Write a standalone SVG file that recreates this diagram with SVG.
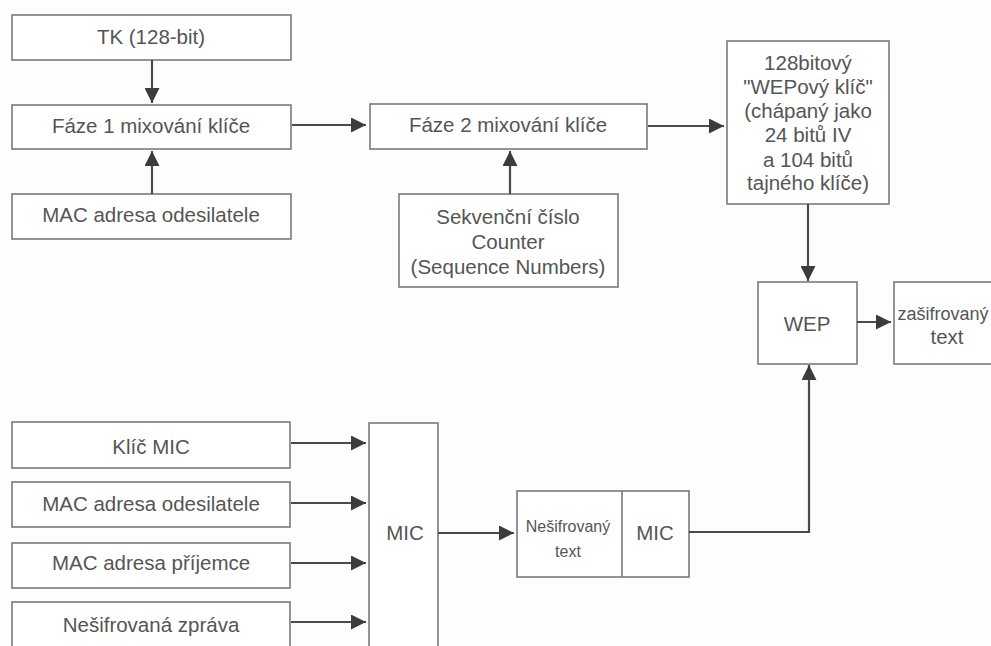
<svg xmlns="http://www.w3.org/2000/svg" width="991" height="646" viewBox="0 0 991 646">
  <style>
    .box { fill: #ffffff; stroke: #7a7a7a; stroke-width: 1.6; }
    .lbl { font-family: "Liberation Sans", Arial, sans-serif; font-size: 20.5px; fill: #555555; text-anchor: middle; }
    .sm { font-size: 16px; }
    .wire { fill: none; stroke: #4a4a4a; stroke-width: 2.2; }
  </style>
  <defs>
    <marker id="head" viewBox="0 0 15 15" refX="15" refY="7.5" markerWidth="15" markerHeight="15" markerUnits="userSpaceOnUse" orient="auto">
      <path d="M0,0 L15,7.5 L0,15 Z" fill="#3c3c3c"/>
    </marker>
  </defs>
  <rect width="991" height="646" fill="#fdfdfd"/>

  <g id="tk">
    <rect class="box" x="12" y="15" width="279" height="45"/>
    <text class="lbl" x="151" y="44">TK (128-bit)</text>
  </g>
  <g id="faze1">
    <rect class="box" x="12" y="105" width="279" height="44"/>
    <text class="lbl" x="151" y="133">Fáze 1 mixování klíče</text>
  </g>
  <g id="mac-top">
    <rect class="box" x="12" y="194" width="279" height="45"/>
    <text class="lbl" x="151" y="222">MAC adresa odesilatele</text>
  </g>
  <g id="faze2">
    <rect class="box" x="370" y="104" width="277" height="45"/>
    <text class="lbl" x="508" y="132">Fáze 2 mixování klíče</text>
  </g>
  <g id="sekvence">
    <rect class="box" x="399" y="194" width="219" height="93"/>
    <text class="lbl" x="508" y="224">Sekvenční číslo</text>
    <text class="lbl" x="508" y="249">Counter</text>
    <text class="lbl" x="508" y="274">(Sequence Numbers)</text>
  </g>
  <g id="wep-key">
    <rect class="box" x="727" y="41" width="162" height="163"/>
    <text class="lbl" x="808" y="70">128bitový</text>
    <text class="lbl" x="808" y="94">"WEPový klíč"</text>
    <text class="lbl" x="808" y="118">(chápaný jako</text>
    <text class="lbl" x="808" y="142">24 bitů IV</text>
    <text class="lbl" x="808" y="167">a 104 bitů</text>
    <text class="lbl" x="808" y="190">tajného klíče)</text>
  </g>
  <g id="wep">
    <rect class="box" x="758" y="282" width="99" height="82"/>
    <text class="lbl" x="807" y="331">WEP</text>
  </g>
  <g id="sifrovany">
    <rect class="box" x="894" y="282" width="110" height="82"/>
    <text class="lbl" x="943" y="320" style="font-size:18px">zašifrovaný</text>
    <text class="lbl" x="947" y="344">text</text>
  </g>
  <g id="klic-mic">
    <rect class="box" x="12" y="422" width="278" height="46"/>
    <text class="lbl" x="151" y="454">Klíč MIC</text>
  </g>
  <g id="mac-odesilatel">
    <rect class="box" x="12" y="482" width="278" height="45"/>
    <text class="lbl" x="151" y="511">MAC adresa odesilatele</text>
  </g>
  <g id="mac-prijemce">
    <rect class="box" x="12" y="543" width="278" height="45"/>
    <text class="lbl" x="151" y="570">MAC adresa příjemce</text>
  </g>
  <g id="zprava">
    <rect class="box" x="12" y="602" width="278" height="50"/>
    <text class="lbl" x="151" y="632">Nešifrovaná zpráva</text>
  </g>
  <g id="mic">
    <rect class="box" x="369" y="423" width="69" height="230"/>
    <text class="lbl" x="405" y="540">MIC</text>
  </g>
  <g id="paket">
    <rect class="box" x="517" y="491" width="172" height="86"/>
    <line class="box" x1="622" y1="491" x2="622" y2="577"/>
    <text class="lbl sm" x="568" y="532">Nešifrovaný</text>
    <text class="lbl sm" x="568" y="557">text</text>
    <text class="lbl" x="655" y="540">MIC</text>
  </g>

  <g id="connectors">
    <line class="wire" x1="152" y1="60" x2="152" y2="103" marker-end="url(#head)"/>
    <line class="wire" x1="152" y1="194" x2="152" y2="151" marker-end="url(#head)"/>
    <line class="wire" x1="292" y1="125" x2="366" y2="125" marker-end="url(#head)"/>
    <line class="wire" x1="510" y1="194" x2="510" y2="151" marker-end="url(#head)"/>
    <line class="wire" x1="648" y1="126" x2="724" y2="126" marker-end="url(#head)"/>
    <line class="wire" x1="808" y1="204" x2="808" y2="281" marker-end="url(#head)"/>
    <line class="wire" x1="857" y1="322" x2="891" y2="322" marker-end="url(#head)"/>
    <line class="wire" x1="291" y1="443" x2="366" y2="443" marker-end="url(#head)"/>
    <line class="wire" x1="291" y1="503" x2="366" y2="503" marker-end="url(#head)"/>
    <line class="wire" x1="291" y1="563" x2="366" y2="563" marker-end="url(#head)"/>
    <line class="wire" x1="291" y1="622" x2="366" y2="622" marker-end="url(#head)"/>
    <line class="wire" x1="438" y1="533" x2="514" y2="533" marker-end="url(#head)"/>
    <polyline class="wire" points="689,532 809,532 809,365" marker-end="url(#head)"/>
  </g>
</svg>
